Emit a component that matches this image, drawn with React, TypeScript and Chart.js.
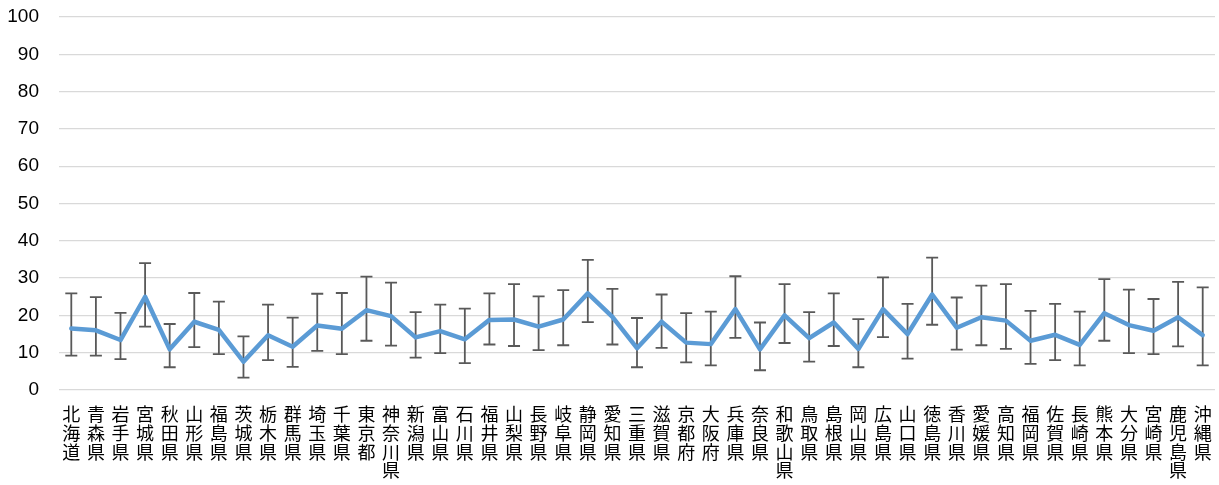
import React, { useEffect, useRef } from "react";
import { Chart, registerables } from "chart.js";

Chart.register(...registerables);

const prefectures = [
  "北海道", "青森県", "岩手県", "宮城県", "秋田県", "山形県", "福島県", "茨城県", "栃木県", "群馬県",
  "埼玉県", "千葉県", "東京都", "神奈川県", "新潟県", "富山県", "石川県", "福井県", "山梨県", "長野県",
  "岐阜県", "静岡県", "愛知県", "三重県", "滋賀県", "京都府", "大阪府", "兵庫県", "奈良県", "和歌山県",
  "鳥取県", "島根県", "岡山県", "広島県", "山口県", "徳島県", "香川県", "愛媛県", "高知県", "福岡県",
  "佐賀県", "長崎県", "熊本県", "大分県", "宮崎県", "鹿児島県", "沖縄県",
];

const meanValues = [
  16.5, 16.0, 13.4, 25.0, 10.9, 18.3, 16.1, 7.6, 14.7, 11.6,
  17.3, 16.4, 21.4, 19.8, 14.1, 15.8, 13.6, 18.8, 18.9, 17.0,
  18.9, 25.9, 19.6, 11.2, 18.3, 12.7, 12.3, 21.7, 10.9, 20.0,
  13.9, 18.1, 11.0, 21.7, 15.0, 25.6, 16.7, 19.5, 18.6, 13.2,
  14.8, 12.1, 20.6, 17.4, 15.9, 19.5, 14.7,
];

const errorLow = [
  9.2, 9.2, 8.3, 17.0, 6.1, 11.5, 9.6, 3.3, 8.0, 6.2,
  10.5, 9.6, 13.2, 11.9, 8.7, 9.9, 7.2, 12.2, 11.8, 10.7,
  12.0, 18.2, 12.2, 6.1, 11.3, 7.4, 6.6, 14.0, 5.3, 12.6,
  7.6, 11.8, 6.1, 14.2, 8.4, 17.5, 10.8, 12.0, 11.0, 7.0,
  8.0, 6.6, 13.2, 9.9, 9.6, 11.7, 6.6,
];

const errorHigh = [
  25.9, 24.9, 20.7, 34.0, 17.7, 26.0, 23.7, 14.4, 22.9, 19.4,
  25.8, 26.0, 30.4, 28.8, 20.9, 22.9, 21.8, 25.9, 28.4, 25.1,
  26.8, 34.9, 27.1, 19.3, 25.6, 20.6, 21.0, 30.5, 18.1, 28.4,
  20.9, 25.9, 19.0, 30.2, 23.1, 35.5, 24.8, 28.0, 28.4, 21.2,
  23.1, 21.0, 29.7, 26.9, 24.4, 29.0, 27.5,
];

const yMin = 0;
const yMax = 100;
const yStep = 10;

const errorBarPlugin = {
  id: "errorBars",
  beforeDatasetsDraw(chart: any) {
    const { ctx, scales } = chart;
    const x = scales.x;
    const y = scales.y;
    ctx.save();
    ctx.strokeStyle = "#595959";
    ctx.lineWidth = 1.8;
    ctx.lineCap = "butt";
    const cap = 6;
    for (let i = 0; i < errorLow.length; i++) {
      const px = x.getPixelForValue(i);
      const top = y.getPixelForValue(errorHigh[i]);
      const bot = y.getPixelForValue(errorLow[i]);
      ctx.beginPath();
      ctx.moveTo(px, top);
      ctx.lineTo(px, bot);
      ctx.moveTo(px - cap, top);
      ctx.lineTo(px + cap, top);
      ctx.moveTo(px - cap, bot);
      ctx.lineTo(px + cap, bot);
      ctx.stroke();
    }
    ctx.restore();
  },
};

export default function App() {
  const canvasRef = useRef<HTMLCanvasElement | null>(null);

  useEffect(() => {
    if (!canvasRef.current) return;
    const chart = new Chart(canvasRef.current, {
      type: "line",
      data: {
        labels: prefectures.map((p) => p.split("")),
        datasets: [
          {
            data: meanValues,
            borderColor: "#5B9BD5",
            backgroundColor: "#5B9BD5",
            borderWidth: 4.5,
            pointRadius: 0,
            pointHoverRadius: 0,
            tension: 0,
            borderJoinStyle: "round",
            borderCapStyle: "round",
            fill: false,
          },
        ],
      },
      options: {
        animation: false,
        responsive: true,
        maintainAspectRatio: false,
        devicePixelRatio: 1,
        layout: { padding: { left: 6, right: 4, top: 17, bottom: 0 } },
        plugins: {
          legend: { display: false },
          tooltip: { enabled: false },
        },
        scales: {
          x: {
            offset: true,
            grid: { display: false, drawTicks: false },
            border: { display: false },
            afterFit: (scale: any) => {
              scale.height = 95;
              scale.paddingTop = 0;
              scale.paddingBottom = 0;
              scale.paddingLeft = 0;
              scale.paddingRight = 0;
            },
            ticks: {
              autoSkip: false,
              maxRotation: 0,
              minRotation: 0,
              padding: 15,
              color: "#000000",
              font: { family: "'Noto Sans CJK JP', sans-serif", size: 18, lineHeight: 1.04 },
            },
          },
          y: {
            min: yMin,
            max: yMax,
            grid: { color: "#D9D9D9", lineWidth: 1.2, drawTicks: false },
            border: { display: false },
            afterFit: (scale: any) => {
              scale.width = 53;
              scale.paddingTop = 0;
              scale.paddingBottom = 0;
            },
            ticks: {
              stepSize: yStep,
              padding: 20,
              color: "#000000",
              font: { family: "'Liberation Sans', Arial, sans-serif", size: 19 },
            },
          },
        },
      },
      plugins: [errorBarPlugin],
    });
    return () => chart.destroy();
  }, []);

  return (
    <div style={{ position: "fixed", left: 0, top: 0, width: 1219, height: 485, background: "#fff" }}>
      <canvas ref={canvasRef} />
    </div>
  );
}
